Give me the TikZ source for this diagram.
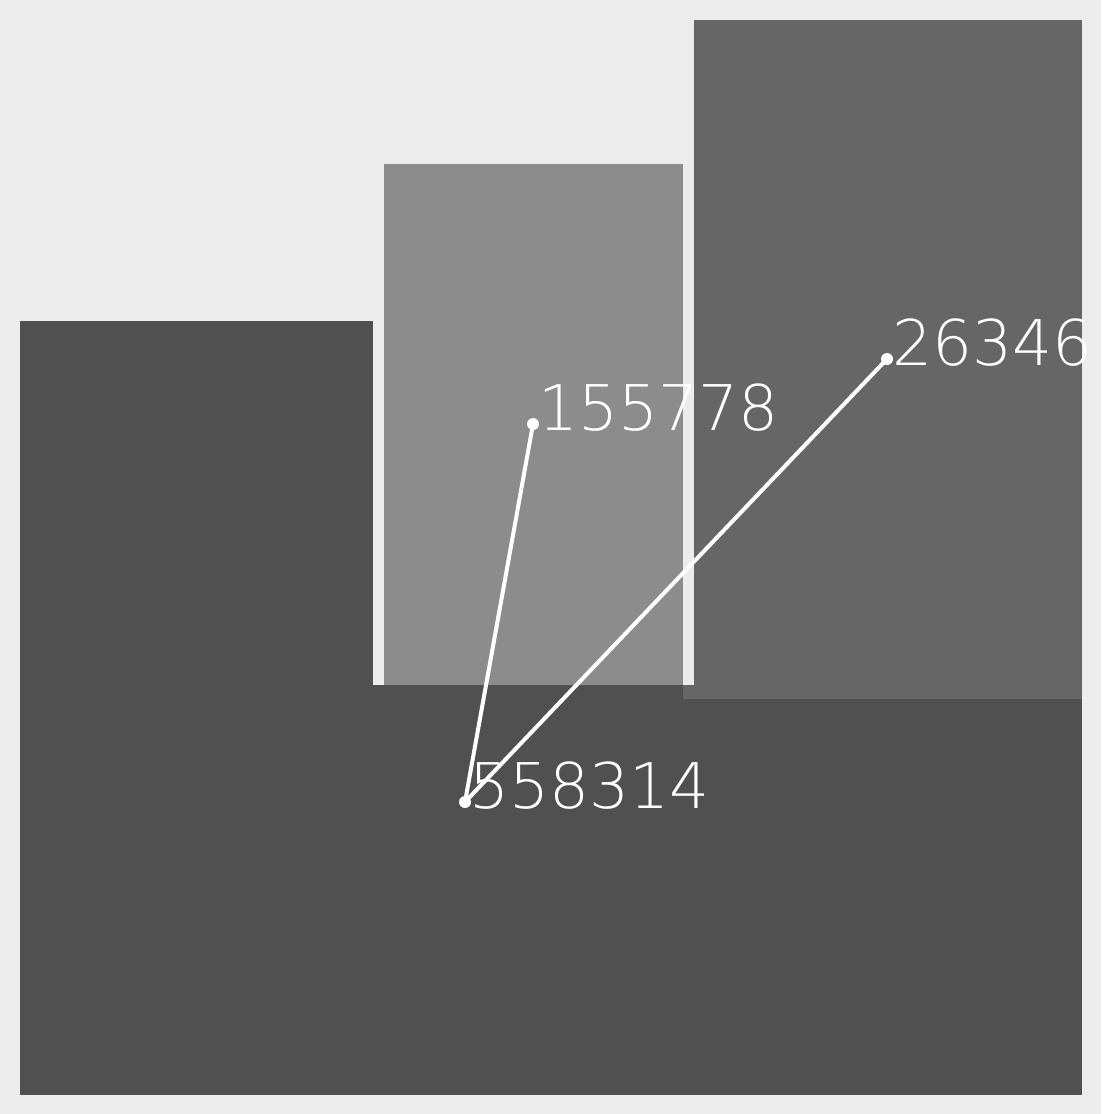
\documentclass[tikz,border=0pt]{standalone}
\usepackage{fontspec}
\newfontfamily\lblfont{DejaVu Sans}[UprightFont={* ExtraLight}]
\definecolor{bgc}{HTML}{ECECEC}
\definecolor{darkc}{HTML}{505050}
\definecolor{midc}{HTML}{8C8C8C}
\definecolor{rightc}{HTML}{666666}
\tikzset{
  region/.style={fill=#1, draw=none},
  link/.style={draw=white, line width=4pt},
  dot/.style={circle, fill=white, inner sep=0pt, minimum size=12pt},
  lbl/.style={anchor=base west, inner sep=0pt, text=white, font=\lblfont\fontsize{63}{63}\selectfont}
}
\begin{document}
\begin{tikzpicture}[x=1pt, y=-1pt]
  \fill[bgc] (0,0) rectangle (1101,1114);
  \useasboundingbox (0,0) rectangle (1101,1114);
  % regions
  \path[region=darkc] (20,321) rectangle (373,1095);
  \path[region=darkc] (20,685) rectangle (1082,1095);
  \path[region=midc] (384,164) rectangle (683,685);
  \path[region=rightc] (694,20) rectangle (1082,699);
  \path[region=rightc] (683,685) rectangle (1082,699);
  % points
  \node[dot] (a) at (465,802) {};
  \node[dot] (b) at (533,424) {};
  \node[dot] (c) at (887,359) {};
  \draw[link] (a.center) -- (b.center);
  \draw[link] (a.center) -- (c.center);
  % labels
  \node[lbl] (la) at (469,808) {558314};
  \node[lbl] (lb) at (538,430) {155778};
  \node[lbl] (lc) at (892,365) {26346};
\end{tikzpicture}
\end{document}
